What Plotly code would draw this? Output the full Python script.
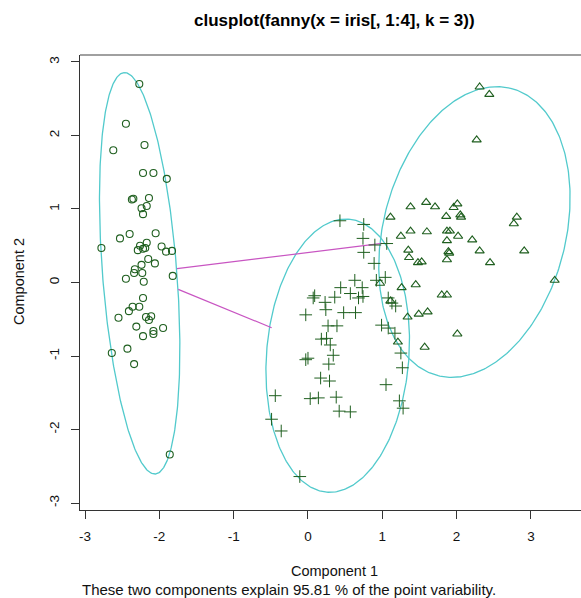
import numpy as np
import plotly.graph_objects as go

# ---- data (Component 1, Component 2) ----
c1_x = [-2.27, -2.45, -2.62, -2.20, -2.22, -2.08, -1.90, -2.37, -2.35, -2.14,
        -2.17, -2.24, -2.22, -2.78, -2.53, -2.40, -2.05, -2.17, -2.26, -2.29,
        -2.22, -2.19, -1.97, -1.91, -1.83, -2.15, -2.24, -2.06, -2.33, -2.34,
        -2.23, -2.45, -2.21, -1.82, -2.22, -2.36, -2.41, -2.27, -2.55, -2.18,
        -2.11, -2.14, -2.31, -2.08, -2.08, -1.95, -2.22, -2.43, -2.64, -2.34,
        -1.86]
c1_y = [2.70, 2.16, 1.80, 1.87, 1.49, 1.49, 1.41, 1.13, 1.14, 1.15,
        1.04, 1.01, 0.93, 0.47, 0.60, 0.66, 0.67, 0.54, 0.50, 0.44,
        0.46, 0.47, 0.49, 0.42, 0.43, 0.32, 0.24, 0.26, 0.18, 0.13,
        0.13, 0.05, 0.01, 0.09, -0.21, -0.33, -0.39, -0.33, -0.48, -0.47,
        -0.46, -0.51, -0.60, -0.66, -0.70, -0.62, -0.73, -0.90, -0.96, -1.11,
        -2.34]

c2_x = [0.43, 0.75, 0.74, 0.90, 1.06, 0.75, 0.89, 0.63, 0.73, 0.92,
        1.04, 0.44, 0.57, 0.68, 0.74, 0.09, 0.07, 0.36, 0.23, 0.24,
        0.48, 0.64, -0.03, 1.08, 1.13, 1.18, 0.27, 0.39, 0.99, 1.08,
        1.17, 0.18, 0.25, 0.30, 1.25, 0.00, -0.03, 0.34, 0.28, 1.27,
        0.17, 0.29, 1.05, -0.44, 0.03, 0.14, 0.38, 1.23, 1.28, 0.42,
        0.57, -0.49, -0.36, -0.11]
c2_y = [0.84, 0.79, 0.60, 0.51, 0.53, 0.41, 0.26, 0.03, -0.07, 0.03,
        0.07, -0.07, -0.15, -0.21, -0.19, -0.18, -0.21, -0.20, -0.27, -0.37,
        -0.41, -0.41, -0.44, -0.21, -0.28, -0.32, -0.59, -0.59, -0.58, -0.62,
        -0.69, -0.77, -0.76, -0.85, -0.96, -1.03, -1.05, -0.99, -1.11, -1.16,
        -1.30, -1.34, -1.39, -1.54, -1.58, -1.57, -1.56, -1.61, -1.71, -1.75,
        -1.76, -1.86, -2.02, -2.64]

c3_x = [2.31, 2.44, 2.27, 1.38, 1.59, 1.71, 2.01, 1.96, 1.11, 1.86,
        2.05, 2.06, 2.81, 2.77, 1.38, 1.25, 1.60, 1.87, 1.91, 2.02,
        1.87, 2.21, 1.35, 1.36, 1.48, 1.53, 1.89, 1.90, 1.87, 2.31,
        2.45, 2.91, 3.32, 0.97, 1.26, 1.45, 1.80, 1.87, 1.11, 1.34,
        1.49, 1.61, 2.01, 1.21, 1.57]
c3_y = [2.66, 2.56, 1.94, 1.03, 1.09, 1.03, 1.07, 1.02, 0.89, 0.90,
        0.92, 0.89, 0.89, 0.80, 0.70, 0.63, 0.69, 0.70, 0.70, 0.63,
        0.57, 0.58, 0.44, 0.34, 0.27, 0.28, 0.42, 0.40, 0.31, 0.43,
        0.27, 0.43, 0.03, -0.01, -0.07, -0.03, -0.17, -0.17, -0.25, -0.47,
        -0.43, -0.40, -0.70, -0.81, -0.88]

# cluster ellipses: centre x, centre y, semi-major, semi-minor, angle (deg)
ell_cx = [-2.265, 0.40, 2.24]
ell_cy = [0.125, -0.995, 0.687]
ell_a = [2.738, 1.863, 2.015]
ell_b = [0.50, 0.958, 1.228]
ell_ang = [94.4, 85.5, 76.0]

# distance segments between cluster ellipses
seg_x0 = [-1.763, -1.746]
seg_y0 = [0.188, -0.093]
seg_x1 = [0.996, -0.489]
seg_y1 = [0.531, -0.615]

x_ticks = [-3, -2, -1, 0, 1, 2, 3]
y_ticks = [-3, -2, -1, 0, 1, 2, 3]

PT = "#1f5f1f"
ELL = "#52cacc"
SEG = "#c855c2"
FONT = "Liberation Sans, Arial, sans-serif"

fig = go.Figure()

t = np.linspace(0, 2 * np.pi, 361)
for cx, cy, a, b, ang in zip(ell_cx, ell_cy, ell_a, ell_b, ell_ang):
    th = np.deg2rad(ang)
    ex = cx + a * np.cos(t) * np.cos(th) - b * np.sin(t) * np.sin(th)
    ey = cy + a * np.cos(t) * np.sin(th) + b * np.sin(t) * np.cos(th)
    fig.add_trace(go.Scatter(x=ex, y=ey, mode="lines",
                             line=dict(color=ELL, width=1.3),
                             hoverinfo="skip", showlegend=False))

for x0, y0, x1, y1 in zip(seg_x0, seg_y0, seg_x1, seg_y1):
    fig.add_trace(go.Scatter(x=[x0, x1], y=[y0, y1], mode="lines",
                             line=dict(color=SEG, width=1.2),
                             hoverinfo="skip", showlegend=False))

fig.add_trace(go.Scatter(x=c1_x, y=c1_y, mode="markers", showlegend=False,
                         marker=dict(symbol="circle-open", size=7,
                                     color=PT, line=dict(width=1.1, color=PT))))
fig.add_trace(go.Scatter(x=c2_x, y=c2_y, mode="markers", showlegend=False,
                         marker=dict(symbol="cross-thin-open", size=9,
                                     color=PT, line=dict(width=1.0, color=PT))))
fig.add_trace(go.Scatter(x=c3_x, y=c3_y, mode="markers", showlegend=False,
                         marker=dict(symbol="triangle-up-open", size=8,
                                     color=PT, line=dict(width=1.1, color=PT))))

fig.update_layout(
    width=581, height=598,
    margin=dict(l=80, r=0, t=55, b=88),
    paper_bgcolor="white", plot_bgcolor="white",
    font=dict(family=FONT, size=13, color="#111"),
    xaxis=dict(range=[-3.068, 3.674], tickmode="array", tickvals=x_ticks,
               ticktext=[str(v) for v in x_ticks],
               showgrid=False, zeroline=False, showline=True,
               linecolor="#333", linewidth=1, ticks="outside", ticklen=8,
               tickcolor="#333", tickfont=dict(size=13.5, family=FONT),
               ticklabelstandoff=6, automargin=False),
    yaxis=dict(range=[-3.095, 3.095], tickmode="array", tickvals=y_ticks,
               ticktext=[str(v) for v in y_ticks],
               showgrid=False, zeroline=False, showline=True,
               linecolor="#333", linewidth=1, ticks="outside", ticklen=8,
               tickcolor="#333", tickangle=-90,
               tickfont=dict(size=13.5, family=FONT), ticklabelstandoff=7,
               automargin=False),
    shapes=[dict(type="line", xref="paper", yref="paper", x0=0, x1=1,
                 y0=1, y1=1, line=dict(color="#808080", width=1.5))],
    annotations=[
        dict(text="<b>clusplot(fanny(x = iris[, 1:4], k = 3))</b>",
             xref="paper", yref="paper", x=(334 - 80) / 501,
             y=1 + (55 - 20) / 455, xanchor="center", yanchor="middle",
             showarrow=False, font=dict(size=17, family=FONT, color="#000")),
        dict(text="Component 1", xref="paper", yref="paper",
             x=(334 - 80) / 501, y=-(571 - 510) / 455,
             xanchor="center", yanchor="middle", showarrow=False,
             font=dict(size=14.5, family=FONT, color="#111")),
        dict(text="These two components explain 95.81 % of the point variability.",
             xref="paper", yref="paper", x=(289 - 80) / 501,
             y=-(589 - 510) / 455, xanchor="center", yanchor="middle",
             showarrow=False, font=dict(size=15, family=FONT, color="#111")),
        dict(text="Component 2", xref="paper", yref="paper",
             x=-(80 - 19) / 501, y=(510 - 282) / 455, textangle=-90,
             xanchor="center", yanchor="middle", showarrow=False,
             font=dict(size=14.5, family=FONT, color="#111")),
    ],
)

fig.write_html("out.html",
               config={"displayModeBar": False},
               post_script="document.body.style.margin='0';"
                           "document.body.style.overflow='hidden';")
